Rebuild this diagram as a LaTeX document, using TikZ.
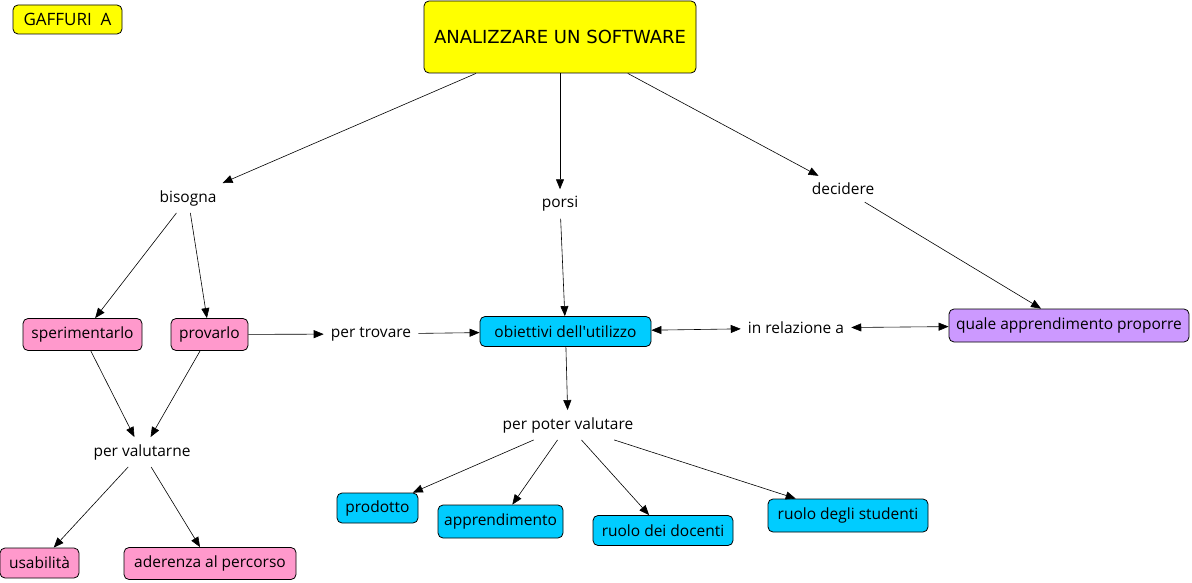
\documentclass[tikz,border=0pt]{standalone}
\usepackage{fontspec}
\setmainfont{Open Sans}
\newfontfamily\titlefont{DejaVu Sans}
\usetikzlibrary{positioning,arrows.meta}
\definecolor{mapyellow}{RGB}{255,255,0}
\definecolor{mappink}{RGB}{255,153,204}
\definecolor{mapblue}{RGB}{0,204,255}
\definecolor{mapviolet}{RGB}{204,153,255}

\begin{document}
\begin{tikzpicture}[
    x=1pt, y=-1pt,
    concept/.style={rectangle, draw=black, line width=0.8pt, rounded corners=5pt,
        minimum height=32pt, inner xsep=5pt, align=center,
        font=\fontsize{15.5}{18}\selectfont},
    pinkbox/.style={concept, fill=mappink},
    bluebox/.style={concept, fill=mapblue, minimum height=30pt},
    link/.style={inner sep=7pt, font=\fontsize{15.5}{18}\selectfont},
    arrow/.style={-{Triangle[length=10pt, width=8pt]}, line width=0.6pt},
    twoway/.style={{Triangle[length=10pt, width=8pt]}-{Triangle[length=10pt, width=8pt]}, line width=0.6pt}
]
\useasboundingbox (0,0) rectangle (1192,583);

% Title and author
\node[concept, fill=mapyellow, minimum width=272pt, minimum height=72pt,
    font=\titlefont\fontsize{18}{21}\selectfont] (title) at (560,37) {ANALIZZARE UN SOFTWARE};
\node[concept, fill=mapyellow, minimum width=109pt, minimum height=29pt,
    font=\fontsize{17}{20}\selectfont] (author) at (67.5,19.5) {GAFFURI\ \ A};

% Linking phrases
\node[link] (bisogna) at (188,198) {bisogna};
\node[link] (porsi) at (560,204) {porsi};
\node[link] (decidere) at (843,189) {decidere};
\node[link] (trovare) at (371,334) {per trovare};
\node[link] (relazione) at (796,328) {in relazione a};
\node[link] (valutarne) at (142,452) {per valutarne};
\node[link] (potervalutare) at (568,425) {per poter valutare};

% Concepts
\node[pinkbox, minimum width=119pt] (sperimentarlo) at (82.5,334.5) {sperimentarlo};
\node[pinkbox, minimum width=77pt] (provarlo) at (209.5,334.5) {provarlo};
\node[bluebox, minimum width=171pt] (obiettivi) at (565.5,331.5) {obiettivi dell\textquotesingle utilizzo};
\node[concept, fill=mapviolet, minimum width=240pt, minimum height=33pt] (quale) at (1069,325.5) {quale apprendimento proporre};
\node[pinkbox, minimum width=79pt, minimum height=30pt] (usabilita) at (39.5,563) {usabilità};
\node[pinkbox, minimum width=172pt] (aderenza) at (210,563.5) {aderenza al percorso};
\node[bluebox, minimum width=81pt] (prodotto) at (377.5,508) {prodotto};
\node[bluebox, minimum width=125pt, minimum height=33pt] (apprendimento) at (500.5,521.5) {apprendimento};
\node[bluebox, minimum width=140pt] (docenti) at (663,530.5) {ruolo dei docenti};
\node[bluebox, minimum width=160pt, minimum height=33pt] (studenti) at (848,515.5) {ruolo degli studenti};

% Arrows from the title
\draw[arrow] (title) -- (bisogna);
\draw[arrow] (title) -- (porsi);
\draw[arrow] (title) -- (decidere);

% Left branch
\draw[arrow] (bisogna) -- (sperimentarlo);
\draw[arrow] (bisogna) -- (provarlo);
\draw[arrow] (sperimentarlo) -- (valutarne);
\draw[arrow] (provarlo) -- (valutarne);
\draw[arrow] (valutarne) -- (usabilita);
\draw[arrow] (valutarne) -- (aderenza);
\draw[arrow] (provarlo) -- (trovare);
\draw[arrow] (trovare) -- (obiettivi);

% Middle and right branch
\draw[arrow] (porsi) -- (obiettivi);
\draw[arrow] (decidere) -- (quale);
\draw[twoway] (obiettivi) -- (relazione);
\draw[twoway] (relazione) -- (quale);
\draw[arrow] (obiettivi) -- (potervalutare);
\draw[arrow] (potervalutare) -- (prodotto);
\draw[arrow] (potervalutare) -- (apprendimento);
\draw[arrow] (potervalutare) -- (docenti);
\draw[arrow] (potervalutare) -- (studenti);

\end{tikzpicture}
\end{document}
